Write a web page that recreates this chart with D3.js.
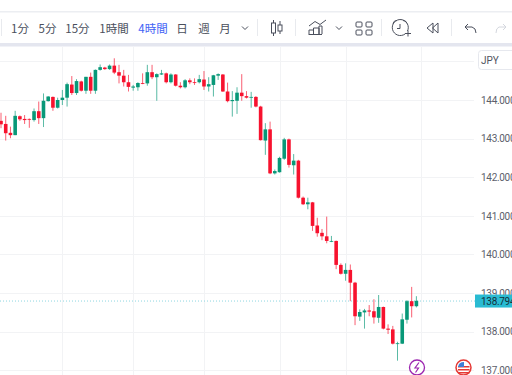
<!DOCTYPE html>
<html>
<head>
<meta charset="utf-8">
<script src="https://cdnjs.cloudflare.com/ajax/libs/d3/7.8.5/d3.min.js"></script>
<style>
html, body { margin: 0; padding: 0; background: #fff; overflow: hidden; }
svg { display: block; }
text { font-family: "Noto Sans CJK JP", "Noto Sans", sans-serif; }
.ax text { font-family: Roboto, sans-serif; letter-spacing: -0.3px; }
</style>
</head>
<body>
<svg width="512" height="375"></svg>
<script>
const opens = [143.46,143.38,143.15,143.09,143.58,143.51,143.51,143.48,143.71,143.53,143.97,144.08,143.80,144.00,144.06,144.40,144.18,144.48,144.24,144.60,144.24,144.78,144.84,144.80,144.89,144.72,144.63,144.46,144.32,144.33,144.44,144.43,144.72,144.59,144.66,144.69,144.46,144.66,144.37,144.33,144.51,144.46,144.46,144.53,144.35,144.39,144.63,144.66,144.22,143.97,143.98,144.19,144.10,144.06,144.08,143.83,142.95,143.24,142.10,142.13,142.48,142.98,142.31,142.43,141.47,141.30,141.35,140.75,140.56,140.47,140.33,140.35,139.73,139.50,139.60,139.27,138.39,138.50,138.55,138.53,138.36,138.64,138.08,138.06,137.69,137.69,138.31,138.79,138.66];
const closes = [143.37,143.14,143.09,143.59,143.50,143.48,143.49,143.71,143.53,143.98,144.09,143.80,144.00,144.06,144.41,144.18,144.49,144.24,144.60,144.24,144.78,144.85,144.80,144.89,144.71,144.63,144.46,144.34,144.35,144.44,144.42,144.72,144.59,144.67,144.69,144.46,144.66,144.37,144.33,144.51,144.46,144.44,144.54,144.35,144.41,144.64,144.67,144.22,143.97,144.00,144.19,144.10,144.06,144.08,143.83,142.96,143.24,142.10,142.16,142.50,142.98,142.32,142.43,141.47,141.30,141.35,140.74,140.55,140.47,140.35,140.35,139.73,139.50,139.60,139.27,138.40,138.51,138.55,138.52,138.37,138.64,138.08,138.05,137.69,137.70,138.32,138.79,138.66,138.80];
const highs = [143.67,143.59,143.31,143.72,143.60,143.61,143.52,143.78,143.96,144.17,144.10,144.09,144.06,144.26,144.45,144.62,144.54,144.50,144.60,144.71,144.79,144.92,144.86,144.92,145.08,144.91,144.78,144.65,144.39,144.46,144.69,144.91,144.91,144.69,144.78,144.71,144.69,144.67,144.46,144.54,144.56,144.56,144.65,144.75,144.59,144.65,144.69,144.67,144.45,144.23,144.33,144.67,144.23,144.21,144.10,143.85,143.40,143.44,142.20,142.53,143.02,143.00,142.60,142.45,141.50,141.47,141.36,140.95,140.66,140.98,140.48,140.36,139.77,139.77,139.74,139.29,138.58,138.59,138.69,138.84,138.95,138.65,138.19,138.15,137.74,138.47,138.82,139.16,138.92];
const lows = [143.27,142.95,143.01,143.09,143.46,143.38,143.28,143.44,143.38,143.30,143.96,143.72,143.78,143.87,143.83,144.13,144.13,144.22,144.16,144.16,144.16,144.76,144.78,144.78,144.67,144.43,144.35,144.22,144.24,144.24,144.41,144.37,144.54,143.98,144.65,144.43,144.43,144.35,144.30,144.30,144.41,144.39,144.43,144.26,144.22,144.09,144.52,144.21,143.94,143.57,143.64,143.98,144.04,143.80,143.81,142.95,142.58,142.08,142.07,142.12,142.45,142.25,142.07,141.45,141.28,141.17,140.61,140.46,140.37,140.29,140.32,139.62,139.48,139.32,138.79,138.17,138.28,138.08,138.40,138.21,138.23,138.06,137.94,137.67,137.25,137.68,138.21,138.37,138.63];
const priceTicks = [145,144,143,142,141,140,139,138,137];
const gridCandles = [13,28,43,59,73,89];
const lastPrice = 138.794;
const periods = ["1分","5分","15分","1時間","4時間","日","週","月"];
const periodX = [20,47.5,77.5,114,153,182,204,225];

const UP = "#089878", DOWN = "#f7122e", BLUE = "#3f62f5", ICON = "#4a4f5c";

const svg = d3.select("svg");
const chartRight = 474;

const x = d3.scaleLinear().domain([0, 88]).range([1, 416.4]);
const y = d3.scaleLinear().domain([144, 138]).range([100, 331.7]);

// grid, clipped under the toolbar
const grid = svg.append("g").attr("stroke", "#f2f3f5");
grid.selectAll(".gy").data(priceTicks).enter().append("line")
  .attr("x1", 0).attr("x2", chartRight)
  .attr("y1", d => Math.round(y(d)) + 0.5).attr("y2", d => Math.round(y(d)) + 0.5);
grid.selectAll(".gx").data(gridCandles).enter().append("line")
  .attr("x1", d => Math.round(x(d)) + 0.5).attr("x2", d => Math.round(x(d)) + 0.5)
  .attr("y1", 47).attr("y2", 375);

// last price dotted line
svg.append("line")
  .attr("x1", 0).attr("x2", 476)
  .attr("y1", y(lastPrice)).attr("y2", y(lastPrice))
  .attr("stroke", "#8ed6e2").attr("stroke-dasharray", "1,2");

// candles
const candles = d3.range(opens.length);
const isUp = i => closes[i] >= opens[i];
const candle = svg.append("g");
candle.selectAll(".wick").data(candles).enter().append("line")
  .attr("x1", i => x(i)).attr("x2", i => x(i))
  .attr("y1", i => y(highs[i])).attr("y2", i => y(lows[i]))
  .attr("stroke", i => isUp(i) ? UP : DOWN).attr("stroke-width", 0.9).attr("opacity", 0.75);
candle.selectAll(".body").data(candles).enter().append("rect")
  .attr("x", i => x(i) - 1.8).attr("width", 3.6)
  .attr("y", i => y(Math.max(opens[i], closes[i])))
  .attr("height", i => Math.max(0.8, Math.abs(y(opens[i]) - y(closes[i]))))
  .attr("fill", i => isUp(i) ? UP : DOWN);

// price axis
const axis = svg.append("g").attr("class", "ax")
  .attr("transform", "translate(481,0)")
  .call(d3.axisRight(y).tickValues(priceTicks.slice(1)).tickFormat(d3.format(".3f")).tickSize(0).tickPadding(0));
axis.select(".domain").remove();
axis.selectAll("text").attr("fill", "#5d606b").attr("font-size", 10);

// JPY box
svg.append("rect").attr("x", 478.5).attr("y", 50.5).attr("width", 40).attr("height", 19)
  .attr("rx", 3).attr("fill", "#fff").attr("stroke", "#e6e8ee");
svg.append("text").attr("class", "jpy").attr("x", 481).attr("y", 64)
  .attr("font-size", 10).attr("fill", "#50535e").style("font-family", "Roboto, sans-serif").text("JPY");

// last price tag
svg.append("rect").attr("x", 475).attr("y", y(lastPrice) - 6.5).attr("width", 37).attr("height", 13).attr("fill", "#29bbd2");
svg.append("text").attr("x", 481).attr("y", y(lastPrice) + 3.7)
  .attr("font-size", 10).attr("fill", "#14303a").style("font-family", "Roboto, sans-serif")
  .style("letter-spacing", "-0.3px").text(d3.format(".3f")(lastPrice));

// toolbar
const bar = svg.append("g");
bar.append("rect").attr("width", 512).attr("height", 46).attr("fill", "#fff");
bar.append("rect").attr("y", 11).attr("width", 512).attr("height", 1.5).attr("fill", "#eceef2");
bar.append("rect").attr("y", 43).attr("width", 512).attr("height", 3.5).attr("fill", "#e4e6ef");
bar.selectAll(".sep").data([1, 257, 295, 381, 451]).enter().append("line")
  .attr("x1", d => d + 0.5).attr("x2", d => d + 0.5).attr("y1", 19).attr("y2", 36)
  .attr("stroke", "#e8eaee");
bar.selectAll(".period").data(periods).enter().append("text")
  .attr("x", (d, i) => periodX[i]).attr("y", 32.5)
  .attr("text-anchor", "middle").attr("font-size", 11.5)
  .attr("fill", d => d === "4時間" ? BLUE : "#4a4f5c")
  .text(d => d);

const icon = bar.append("g").attr("fill", "none").attr("stroke", ICON).attr("stroke-width", 1);
const chevron = cx => icon.append("path").attr("d", `M${cx - 3},26.5 L${cx},29.5 L${cx + 3},26.5`);
chevron(245);
chevron(339);
// candle icon
icon.append("path").attr("d", "M273.5,20 V36 M280,21 V34");
icon.append("rect").attr("x", 271.5).attr("y", 23).attr("width", 4).attr("height", 10).attr("fill", "#fff");
icon.append("rect").attr("x", 278).attr("y", 25).attr("width", 4).attr("height", 6).attr("fill", "#fff");
// indicator icon
icon.append("path").attr("d", "M309,26 L315,21.5 L320,24.5 L322,23 L326,20");
icon.append("path").attr("d", "M308.5,34.5 H322 M309,34 V30 H313.5 V34 M313.5,34 V28 H319 V34 M319,34 V26 H322 V34");
// layout icon
[[356, 22], [366, 22], [356, 30], [366, 30]].forEach(p => {
  icon.append("rect").attr("x", p[0]).attr("y", p[1]).attr("width", 6).attr("height", 5).attr("rx", 1);
});
// alarm icon
icon.append("path").attr("d", "M405,34 A8,8 0 1 1 407.5,31");
icon.append("path").attr("d", "M400,24 V28.5 H397");
icon.append("path").attr("d", "M393,23.5 A4,4 0 0 1 397,20.5 M403,20.5 A4,4 0 0 1 407,23.5");
icon.append("path").attr("d", "M405,33.5 H411 M408,30.5 V36.5");
// rewind icon
icon.append("path").attr("d", "M433,23 L427,28 L433,33 Z M438,23 L432.5,28 L438,33 Z");
// undo, redo
icon.append("path").attr("d", "M465,27 H472 Q476,28 476,33 M468,24 L465,27 L468,30");
icon.append("path").attr("stroke", "#d4d7de").attr("d", "M506,27 H499 Q496,28 496,33 M503,24 L506,27 L503,30");

// bottom badges
const badge = svg.append("g");
badge.append("circle").attr("cx", 417).attr("cy", 367.5).attr("r", 7.5)
  .attr("fill", "#fff").attr("stroke", "#9c27b0").attr("stroke-width", 1.3);
badge.append("path").attr("d", "M419,362.5 L415,368 H418.5 L415.5,372.5").attr("fill", "none")
  .attr("stroke", "#9c27b0").attr("stroke-width", 1.2);
badge.append("circle").attr("cx", 463.5).attr("cy", 367.5).attr("r", 7.5)
  .attr("fill", "#fff").attr("stroke", "#e53935").attr("stroke-width", 1.5);
badge.append("rect").attr("x", 458).attr("y", 366).attr("width", 11.5).attr("height", 1.5).attr("fill", "#e53935");
badge.append("rect").attr("x", 458).attr("y", 369).attr("width", 11.5).attr("height", 1.5).attr("fill", "#e53935");
badge.append("rect").attr("x", 458).attr("y", 372).attr("width", 11.5).attr("height", 1.5).attr("fill", "#e53935");
badge.append("path").attr("d", "M464,362 A6,6 0 0 0 458,367 H464 Z").attr("fill", "#3f7fd6");
</script>
</body>
</html>
